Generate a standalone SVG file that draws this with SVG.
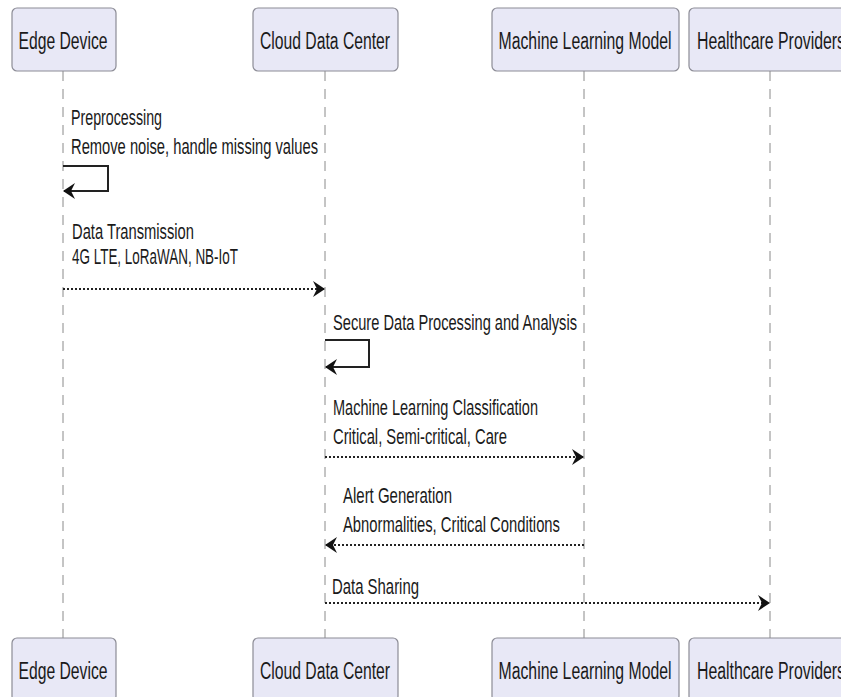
<svg xmlns="http://www.w3.org/2000/svg" width="841" height="697" viewBox="0 0 841 697">
<style>
.actor{fill:#e8e8f6;stroke:#8c8c96;stroke-width:1.2}
.lbl{font-family:"Liberation Sans",Arial,sans-serif;font-size:23px;fill:#1a1a1a;text-anchor:middle}
.msg{font-family:"Liberation Sans",Arial,sans-serif;font-size:21.5px;fill:#1a1a1a}
.life{stroke:#8a8a8a;stroke-width:1;stroke-dasharray:10 8;fill:none}
.solid{stroke:#222;stroke-width:2;fill:none}
.dot{stroke:#222;stroke-width:2;stroke-dasharray:2 2;fill:none}
</style>
<defs>
<marker id="ah" markerWidth="12" markerHeight="16" refX="11" refY="8" orient="auto" markerUnits="userSpaceOnUse">
<path d="M0,0 L12,8 L0,16 L4,8 z" fill="#111"/>
</marker>
</defs>
<rect width="841" height="697" fill="#fff"/>
<g id="lifelines">
<line class="life" x1="63" y1="71" x2="63" y2="638"/>
<line class="life" x1="325" y1="71" x2="325" y2="638"/>
<line class="life" x1="584" y1="71" x2="584" y2="638"/>
<line class="life" x1="770" y1="71" x2="770" y2="638"/>
</g>
<g id="edge-top"><rect class="actor" x="12" y="8" width="104" height="63" rx="5"/><text class="lbl" x="63" y="49" textLength="89" lengthAdjust="spacingAndGlyphs">Edge Device</text></g>
<g id="cloud-top"><rect class="actor" x="253" y="8" width="145" height="63" rx="5"/><text class="lbl" x="325" y="49" textLength="130" lengthAdjust="spacingAndGlyphs">Cloud Data Center</text></g>
<g id="ml-top"><rect class="actor" x="492" y="8" width="187" height="63" rx="5"/><text class="lbl" x="585" y="49" textLength="173" lengthAdjust="spacingAndGlyphs">Machine Learning Model</text></g>
<g id="hp-top"><rect class="actor" x="689" y="8" width="162" height="63" rx="5"/><text class="lbl" x="771" y="49" textLength="148" lengthAdjust="spacingAndGlyphs">Healthcare Providers</text></g>
<g id="edge-bottom"><rect class="actor" x="12" y="638" width="104" height="63" rx="5"/><text class="lbl" x="63" y="679" textLength="89" lengthAdjust="spacingAndGlyphs">Edge Device</text></g>
<g id="cloud-bottom"><rect class="actor" x="253" y="638" width="145" height="63" rx="5"/><text class="lbl" x="325" y="679" textLength="130" lengthAdjust="spacingAndGlyphs">Cloud Data Center</text></g>
<g id="ml-bottom"><rect class="actor" x="492" y="638" width="187" height="63" rx="5"/><text class="lbl" x="585" y="679" textLength="173" lengthAdjust="spacingAndGlyphs">Machine Learning Model</text></g>
<g id="hp-bottom"><rect class="actor" x="689" y="638" width="162" height="63" rx="5"/><text class="lbl" x="771" y="679" textLength="148" lengthAdjust="spacingAndGlyphs">Healthcare Providers</text></g>
<g id="connectors">
<path class="solid" d="M63,166 H108 V191 H64" marker-end="url(#ah)"/>
<line class="dot" x1="63" y1="289" x2="324" y2="289" marker-end="url(#ah)"/>
<path class="solid" d="M325,340 H369 V367 H326" marker-end="url(#ah)"/>
<line class="dot" x1="325" y1="457" x2="583" y2="457" marker-end="url(#ah)"/>
<line class="dot" x1="584" y1="545" x2="326" y2="545" marker-end="url(#ah)"/>
<line class="dot" x1="325" y1="603" x2="769" y2="603" marker-end="url(#ah)"/>
</g>
<g id="labels">
<text class="msg" x="71" y="125" textLength="91" lengthAdjust="spacingAndGlyphs">Preprocessing</text>
<text class="msg" x="71" y="154" textLength="247" lengthAdjust="spacingAndGlyphs">Remove noise, handle missing values</text>
<text class="msg" x="72" y="239" textLength="122" lengthAdjust="spacingAndGlyphs">Data Transmission</text>
<text class="msg" x="72" y="264" textLength="166" lengthAdjust="spacingAndGlyphs">4G LTE, LoRaWAN, NB-IoT</text>
<text class="msg" x="333" y="330" textLength="244" lengthAdjust="spacingAndGlyphs">Secure Data Processing and Analysis</text>
<text class="msg" x="333" y="415" textLength="205" lengthAdjust="spacingAndGlyphs">Machine Learning Classification</text>
<text class="msg" x="333" y="444" textLength="174" lengthAdjust="spacingAndGlyphs">Critical, Semi-critical, Care</text>
<text class="msg" x="343" y="503" textLength="109" lengthAdjust="spacingAndGlyphs">Alert Generation</text>
<text class="msg" x="343" y="532" textLength="217" lengthAdjust="spacingAndGlyphs">Abnormalities, Critical Conditions</text>
<text class="msg" x="332" y="594" textLength="87" lengthAdjust="spacingAndGlyphs">Data Sharing</text>
</g>
</svg>
